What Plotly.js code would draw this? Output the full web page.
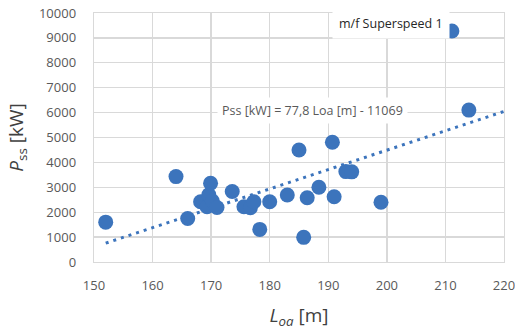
<!DOCTYPE html>
<html>
<head>
<meta charset="utf-8">
<script src="https://cdn.plot.ly/plotly-3.0.1.min.js"></script>
<style>html,body{margin:0;padding:0;background:#fff;}#chart{width:515px;height:331px;}</style>
</head>
<body>
<div id="chart"></div>
<script>
// Data
const loa = [152, 164, 166, 168.2, 169.3, 169.6, 169.9, 170.2, 171, 173.6, 175.6, 176.7, 177.3, 178.3, 180, 183, 185, 185.8, 186.4, 188.4, 190.7, 191, 193, 194, 199, 211.1, 214];
const pss = [1600, 3430, 1750, 2420, 2220, 2700, 3160, 2450, 2190, 2830, 2220, 2180, 2420, 1310, 2420, 2690, 4500, 990, 2580, 3000, 4810, 2620, 3630, 3620, 2400, 9280, 6100];
// Trendline: Pss = 77.8 * Loa - 11069
const trendSlope = 77.8;
const trendIntercept = -11069;
const trendX = [Math.min(...loa), 220];
const trendY = trendX.map(x => trendSlope * x + trendIntercept);
const xTicks = [150, 160, 170, 180, 190, 200, 210, 220];
const yTicks = [0, 1000, 2000, 3000, 4000, 5000, 6000, 7000, 8000, 9000, 10000];

const blue = '#3C74BC';
const grid = '#D9D9D9';
const tickFont = {family: 'Open Sans, sans-serif', size: 13, color: '#595959'};

const traces = [
  {x: trendX, y: trendY, mode: 'lines', type: 'scatter',
   line: {color: blue, width: 3, dash: '3px,5px'}, hoverinfo: 'skip'},
  {x: loa, y: pss, mode: 'markers', type: 'scatter',
   marker: {color: blue, size: 15, line: {width: 0}}}
];

const layout = {
  width: 515, height: 331,
  margin: {l: 94, r: 11, t: 13, b: 69},
  paper_bgcolor: '#fff', plot_bgcolor: '#fff',
  showlegend: false,
  font: {family: 'Open Sans, sans-serif'},
  xaxis: {
    range: [150, 220], tickvals: xTicks, ticktext: xTicks.map(String),
    showgrid: true, gridcolor: grid, gridwidth: 1.3,
    showline: true, linecolor: grid, linewidth: 1.3, mirror: true,
    zeroline: false, ticks: 'outside', ticklen: 11, tickcolor: 'rgba(0,0,0,0)',
    tickfont: tickFont, ticklabeloverflow: 'allow',
    title: {text: '<i>L</i><sub><i>oa</i></sub> [m]', font: {family: 'Open Sans, sans-serif', size: 19, color: '#404040'}, standoff: 15}
  },
  yaxis: {
    range: [0, 10000], tickvals: yTicks, ticktext: yTicks.map(String),
    showgrid: true, gridcolor: grid, gridwidth: 1.3,
    showline: true, linecolor: grid, linewidth: 1.3, mirror: true,
    zeroline: false, ticks: 'outside', ticklen: 14, tickcolor: 'rgba(0,0,0,0)',
    tickfont: tickFont, ticklabeloverflow: 'allow',
    title: {text: '<i>P</i><sub>ss</sub> [kW]', font: {family: 'Open Sans, sans-serif', size: 19, color: '#404040'}, standoff: 10}
  },
  annotations: [
    {x: 200.7, y: 9560, xref: 'x', yref: 'y', text: 'm/f Superspeed 1', showarrow: false,
     xanchor: 'center', yanchor: 'middle', bgcolor: '#fff', borderpad: 6,
     font: {family: 'Open Sans, sans-serif', size: 12.5, color: '#262626'}},
    {x: 187.3, y: 6100, xref: 'x', yref: 'y', text: 'Pss [kW] = 77,8 Loa [m] - 11069', showarrow: false,
     xanchor: 'center', yanchor: 'middle', bgcolor: '#fff', borderpad: 4,
     font: {family: 'Open Sans, sans-serif', size: 12.5, color: '#595959'}}
  ]
};

Plotly.newPlot('chart', traces, layout, {displayModeBar: false, staticPlot: true});
</script>
</body>
</html>
